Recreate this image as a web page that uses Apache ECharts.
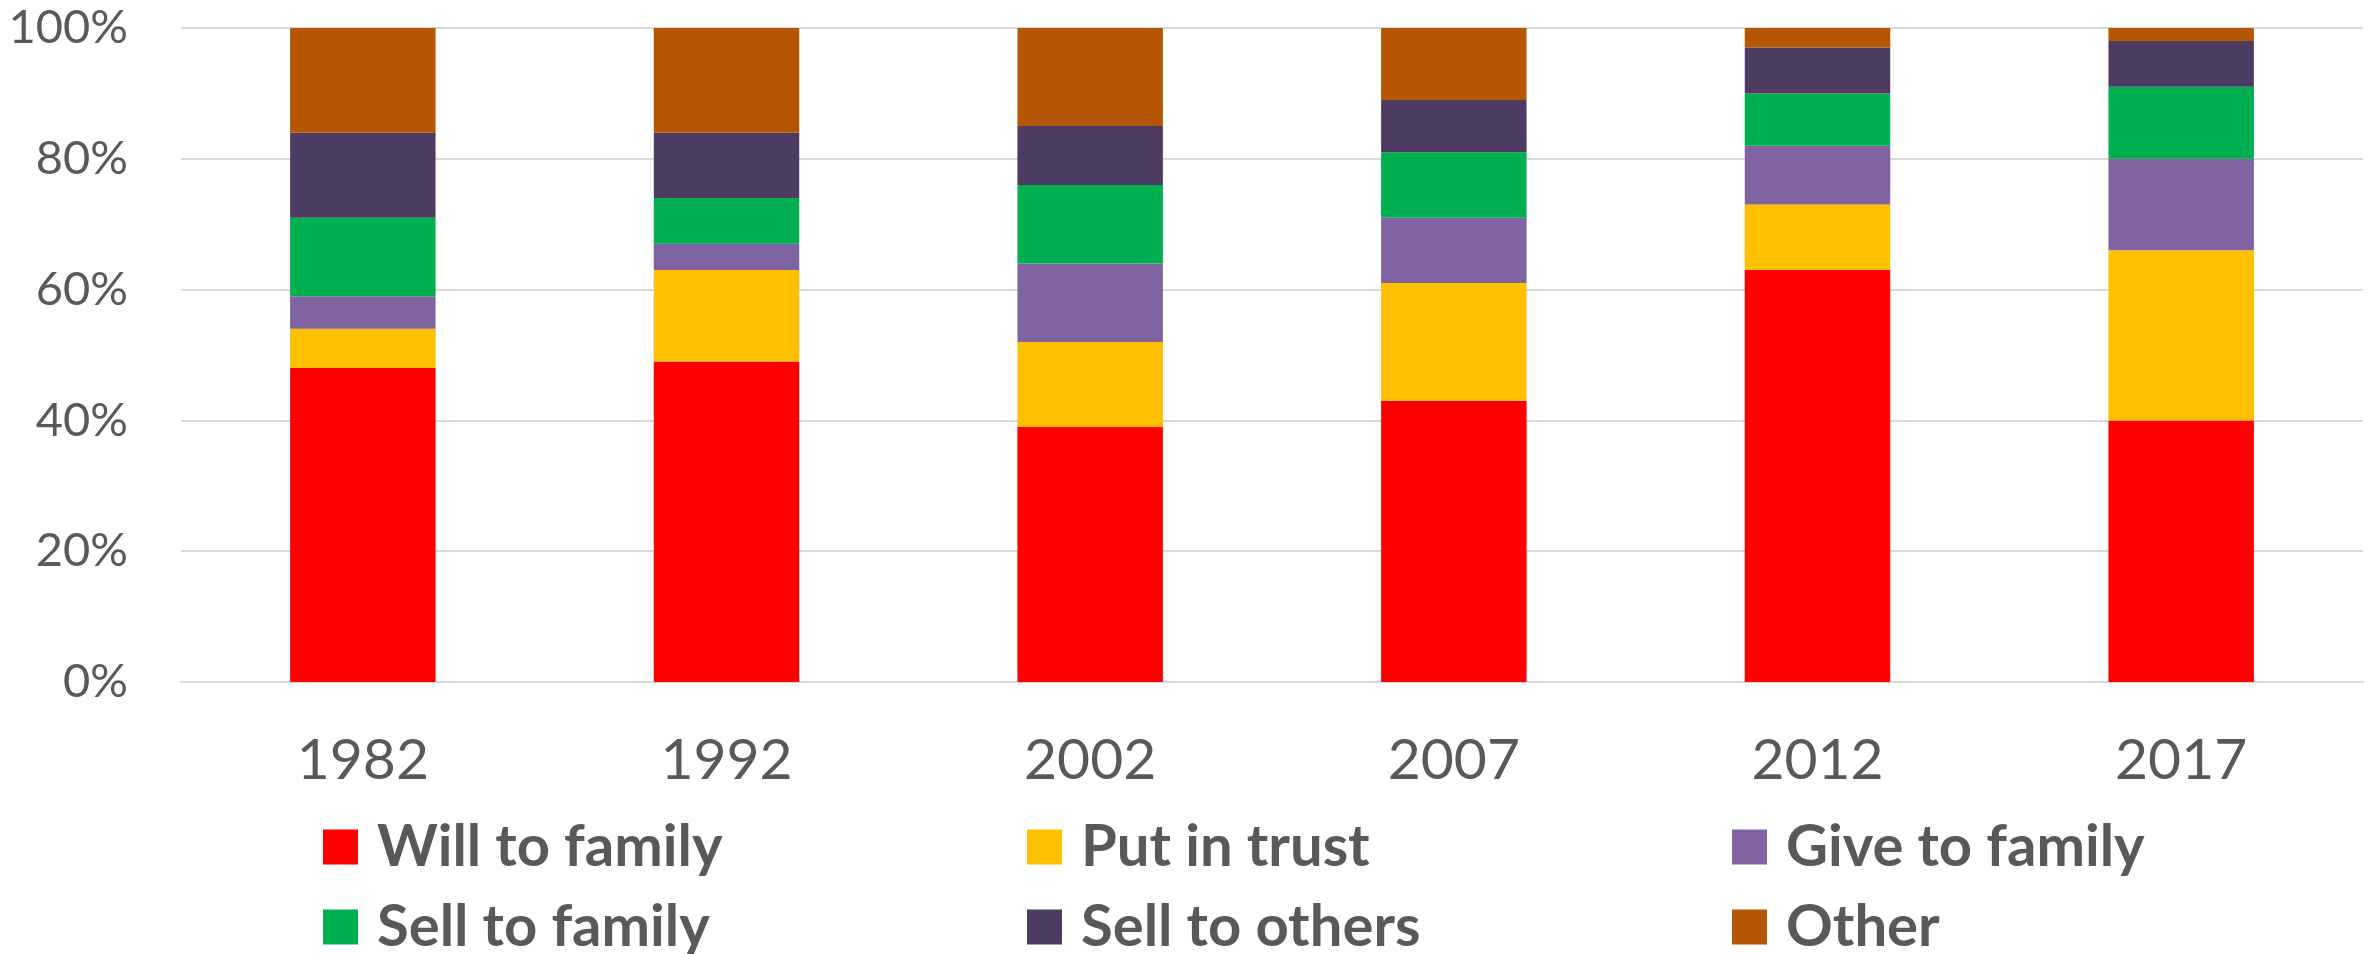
<!DOCTYPE html>
<html>
<head>
<meta charset="utf-8">
<script src="https://cdn.jsdelivr.net/npm/echarts@6/dist/echarts.min.js"></script>
<style>
html,body{margin:0;padding:0;background:#fff;}
#chart{width:2379px;height:954px;}
</style>
</head>
<body>
<div id="chart"></div>
<script>
var categories = ['1982', '1992', '2002', '2007', '2012', '2017'];
var willToFamily = [48, 49, 39, 43, 63, 40];
var putInTrust   = [6, 14, 13, 18, 10, 26];
var giveToFamily = [5, 4, 12, 10, 9, 14];
var sellToFamily = [12, 7, 12, 10, 8, 11];
var sellToOthers = [13, 10, 9, 8, 7, 7];
var other        = [16, 16, 15, 11, 3, 2];
var seriesNames  = ['Will to family', 'Put in trust', 'Give to family', 'Sell to family', 'Sell to others', 'Other'];
var seriesColors = ['#FF0000', '#FFC000', '#8064A2', '#00B050', '#4E3B62', '#B55605'];
var seriesData   = [willToFamily, putInTrust, giveToFamily, sellToFamily, sellToOthers, other];

var FONT = 'Lato';
var textColor = '#595959';

var legendLefts = [323, 1027, 1732, 323, 1027, 1732];
var legendTops  = [818, 818, 818, 898, 898, 898];

function makeLegend(name, left, top) {
  return {
    orient: 'horizontal',
    left: left,
    top: top,
    padding: 0,
    itemWidth: 35,
    itemHeight: 35,
    icon: 'rect',
    data: [name],
    selectedMode: false,
    textStyle: {
      fontFamily: FONT,
      fontWeight: 'bold',
      fontSize: 58,
      lineHeight: 40,
      color: textColor,
      padding: [0, 0, 0, 14]
    }
  };
}

var chart = echarts.init(document.getElementById('chart'), null, {renderer: 'canvas'});
chart.setOption({
  animation: false,
  backgroundColor: '#ffffff',
  grid: {left: 181, right: 16, top: 28, bottom: 272, containLabel: false},
  legend: seriesNames.map(function (n, i) { return makeLegend(n, legendLefts[i], legendTops[i]); }),
  xAxis: {
    type: 'category',
    data: categories,
    axisTick: {show: false},
    axisLine: {lineStyle: {color: '#d9d9d9', width: 2}},
    axisLabel: {fontFamily: FONT, fontSize: 57, lineHeight: 57, color: textColor, margin: 50}
  },
  yAxis: {
    type: 'value',
    min: 0,
    max: 100,
    interval: 20,
    axisLine: {show: false},
    axisTick: {show: false},
    splitLine: {lineStyle: {color: '#d9d9d9', width: 2}},
    axisLabel: {fontFamily: FONT, fontSize: 47, color: textColor, margin: 53, formatter: '{value}%'}
  },
  series: seriesNames.map(function (name, i) {
    return {
      name: name,
      type: 'bar',
      stack: 'total',
      barWidth: '40%',
      itemStyle: {color: seriesColors[i]},
      data: seriesData[i]
    };
  })
});
</script>
</body>
</html>
